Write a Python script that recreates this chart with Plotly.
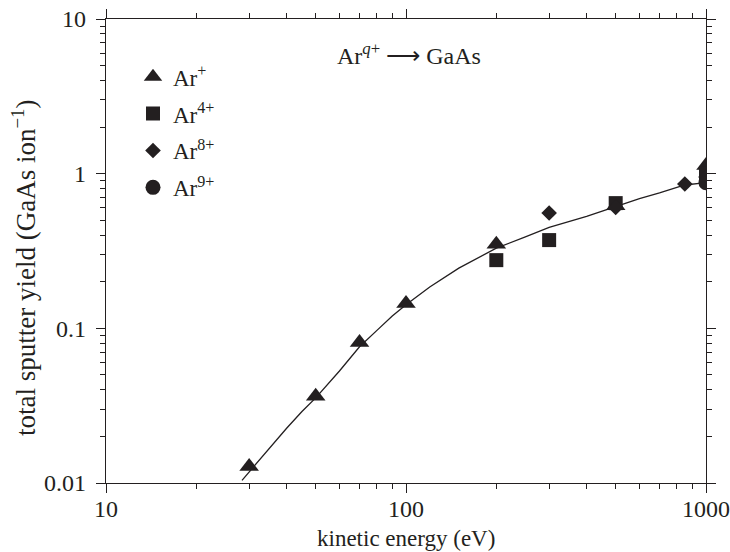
import plotly.graph_objects as go

# ---- data ----
ar1_e = [30, 50, 70, 100, 200, 500, 1000]
ar1_y = [0.0128, 0.0364, 0.081, 0.145, 0.35, 0.62, 1.13]

ar4_e = [200, 300, 500, 1000]
ar4_y = [0.276, 0.372, 0.645, 1.0]

ar8_e = [300, 500, 850, 1000]
ar8_y = [0.557, 0.605, 0.858, 0.95]

ar9_e = [1000]
ar9_y = [0.875]

fit_e = [28.4, 32, 35, 40, 45, 50, 60, 70, 80, 90, 100, 120, 150, 200, 250, 300, 400, 500, 600, 700, 850, 1000]
fit_y = [0.0104, 0.0137, 0.0168, 0.0226, 0.029, 0.0355, 0.053, 0.076, 0.097, 0.12, 0.142, 0.185, 0.245, 0.33, 0.39, 0.45, 0.53, 0.615, 0.69, 0.75, 0.845, 0.875]

x_ticks = [10, 100, 1000]
x_ticktext = ["10", "100", "1000"]
y_ticks = [0.01, 0.1, 1, 10]
y_ticktext = ["0.01", "0.1", "1", "10"]

INK = "#231f20"
FONT = "Liberation Serif"

# plot-area geometry in pixels
W, H = 730, 552
L, R, T, B = 106, 24, 19, 69
PW, PH = W - L - R, H - T - B


def px_x(px):
    return (px - L) / PW


def px_y(py):
    return (H - B - py) / PH


fig = go.Figure()
fig.add_trace(go.Scatter(x=fit_e, y=fit_y, mode="lines", line=dict(color=INK, width=1.3),
                         showlegend=False, hoverinfo="skip"))
fig.add_trace(go.Scatter(x=ar1_e, y=ar1_y, mode="markers", name="Ar<sup>+</sup>", legendgroup="a",
                         marker=dict(symbol="triangle-up", size=17, color=INK)))
fig.add_trace(go.Scatter(x=ar4_e, y=ar4_y, mode="markers", name="Ar<sup>4+</sup>", legendgroup="b",
                         marker=dict(symbol="square", size=14, color=INK)))
fig.add_trace(go.Scatter(x=ar8_e, y=ar8_y, mode="markers", name="Ar<sup>8+</sup>", legendgroup="c",
                         marker=dict(symbol="diamond", size=12, color=INK)))
fig.add_trace(go.Scatter(x=ar9_e, y=ar9_y, mode="markers", name="Ar<sup>9+</sup>", legendgroup="d",
                         marker=dict(symbol="circle", size=15, color=INK)))

axis_common = dict(
    type="log", showline=True, linecolor=INK, linewidth=1.3, mirror="ticks",
    ticks="outside", ticklen=9, tickwidth=1.3, tickcolor=INK, showgrid=False, zeroline=False,
    tickfont=dict(family=FONT, size=24, color=INK), automargin=False,
    minor=dict(ticks="outside", ticklen=5, tickwidth=1.2, tickcolor=INK, dtick="D1", showgrid=False),
)

fig.update_xaxes(range=[1, 3], tickvals=x_ticks, ticktext=x_ticktext, ticklabelstandoff=-5,
                 **axis_common)
fig.update_yaxes(range=[-2, 1], tickvals=y_ticks, ticktext=y_ticktext, ticklabelstandoff=5,
                 **axis_common)

# axis titles as text
fig.add_annotation(x=0.5, y=px_y(538), xref="paper", yref="paper", showarrow=False,
                   xanchor="center", yanchor="middle",
                   text="kinetic energy (eV)", font=dict(family=FONT, size=23, color=INK))
fig.add_annotation(x=px_x(24), y=px_y(268), xref="paper", yref="paper", showarrow=False,
                   xanchor="center", yanchor="middle",
                   text="total sputter yield (GaAs ion<sup>\u22121</sup>)", textangle=-90,
                   font=dict(family=FONT, size=27, color=INK))

fig.add_annotation(x=0.505, y=0.925, xref="paper", yref="paper", showarrow=False,
                   xanchor="center", yanchor="middle",
                   text="Ar<sup><i>q</i>+</sup> \u27f6 GaAs",
                   font=dict(family=FONT, size=24, color=INK))

fig.update_layout(
    width=W, height=H,
    margin=dict(l=L, r=R, t=T, b=B, autoexpand=False),
    paper_bgcolor="white", plot_bgcolor="white",
    font=dict(family=FONT, size=22, color=INK),
    legend=dict(x=0.045, y=0.922, xanchor="left", yanchor="top", bgcolor="rgba(0,0,0,0)",
                font=dict(family=FONT, size=23, color=INK), itemsizing="trace",
                tracegroupgap=4),
)

fig.write_html("out.html")
